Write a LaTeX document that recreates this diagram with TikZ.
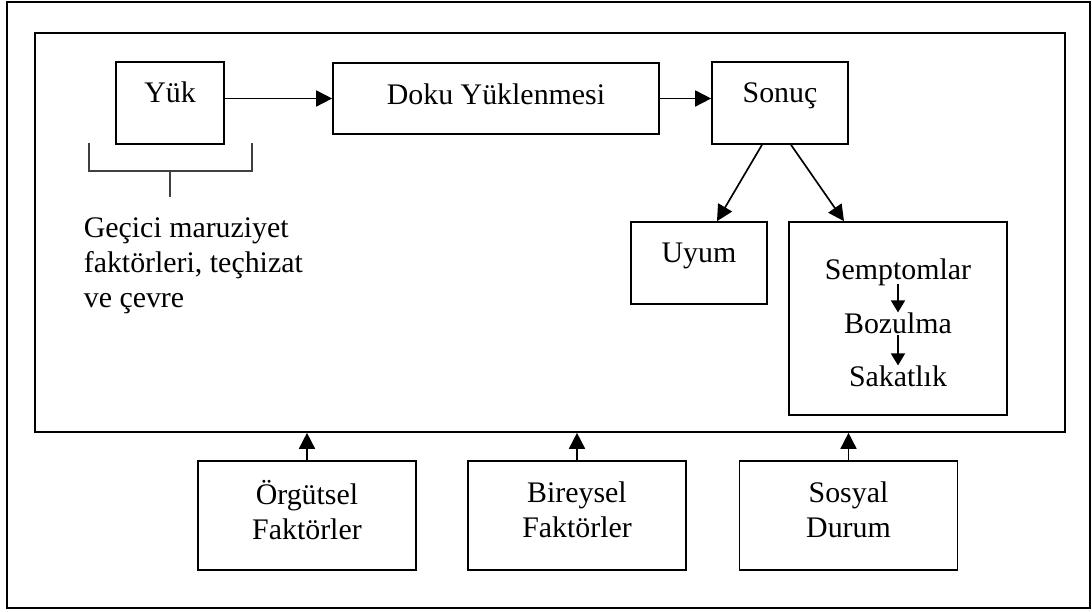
\documentclass[tikz,border=0pt]{standalone}
\usepackage{fontspec}
\setmainfont{Liberation Serif}
\usetikzlibrary{arrows.meta}

\begin{document}
\begin{tikzpicture}[
		font=\fontsize{17}{20}\selectfont,
		line width=0.95pt,
		box/.style={draw, rectangle, inner sep=0pt},
		topbox/.style={box, text height=0.4cm, text depth=0.4cm},
		twoline/.style={box, minimum width=4.36cm, minimum height=2.18cm, align=center, text depth=0.24cm},
		arr/.style={-{Triangle[length=0.32cm, width=0.32cm]}},
		smallarr/.style={-{Triangle[length=0.24cm, width=0.28cm]}}
	]
				\useasboundingbox (0,0) rectangle (21.84,12.24);

				% Frames
				\node[box, minimum width=21.66cm, minimum height=12.12cm] (outer) at (10.97,6.14) {};
				\node[box, minimum width=20.6cm, minimum height=7.98cm] (inner) at (11.0,7.59) {};

				% Load
				\node[topbox, minimum width=2.16cm, minimum height=1.64cm] (yuk) at (3.4,10.18) {Yük};

				% Tissue loading
				\node[box, minimum width=6.52cm, minimum height=1.42cm, text height=0.45cm, text depth=0.2cm] (doku) at (9.92,10.27) {Doku Yüklenmesi};
				\draw[arr] (doku.west -| yuk.east) -- (doku.west);

				% Outcome
				\node[topbox, minimum width=2.72cm, minimum height=1.64cm] (sonuc) at (15.6,10.18) {Sonuç};
				\draw[arr] (doku.east) -- (doku.east -| sonuc.west);

				% Bracket and exposure factors
				\draw[black!75] (1.78,9.38) |- (5.04,8.82) -- (5.04,9.38);
				\draw[black!75] (3.4,8.82) -- (3.4,8.3);
				\node[anchor=north west, align=left, inner sep=0pt] (gecici) at (1.66,7.9) {Geçici maruziyet\\faktörleri, teçhizat\\ve çevre};

				% Adaptation
				\node[topbox, minimum width=2.72cm, minimum height=1.64cm] (uyum) at (13.98,6.98) {Uyum\hspace{0.25cm}};
				\draw[arr] ([xshift=-0.36cm]sonuc.south) -- ([xshift=0.36cm]uyum.north);

				% Symptoms chain
				\node[box, minimum width=4.36cm, minimum height=3.86cm] (belirti) at (17.96,5.87) {};
				\draw[arr] ([xshift=0.22cm]sonuc.south) -- ([xshift=-1.08cm]belirti.north);
				\node[anchor=base, inner sep=0pt] (semptom) at (17.96,6.64) {Semptomlar};
				\node[anchor=base, inner sep=0pt] (bozulma) at (17.96,5.56) {Bozulma};
				\node[anchor=base, inner sep=0pt] (sakatlik) at (17.96,4.50) {Sakatlık};
				\draw[smallarr] ([yshift=0.06cm]semptom.south) -- (bozulma);
				\draw[smallarr] (bozulma) -- (sakatlik);

				% Factors below
				\node[twoline] (orgutsel) at (6.14,1.93) {Örgütsel\\Faktörler};
				\node[twoline] (bireysel) at (11.54,1.93) {Bireysel\\Faktörler};
				\node[twoline] (sosyal) at (16.97,1.93) {Sosyal\\Durum};
				\draw[arr] (orgutsel) -- (orgutsel |- inner.south);
				\draw[arr] (bireysel) -- (bireysel |- inner.south);
				\draw[arr] (sosyal) -- (sosyal |- inner.south);
			\end{tikzpicture}
\end{document}
